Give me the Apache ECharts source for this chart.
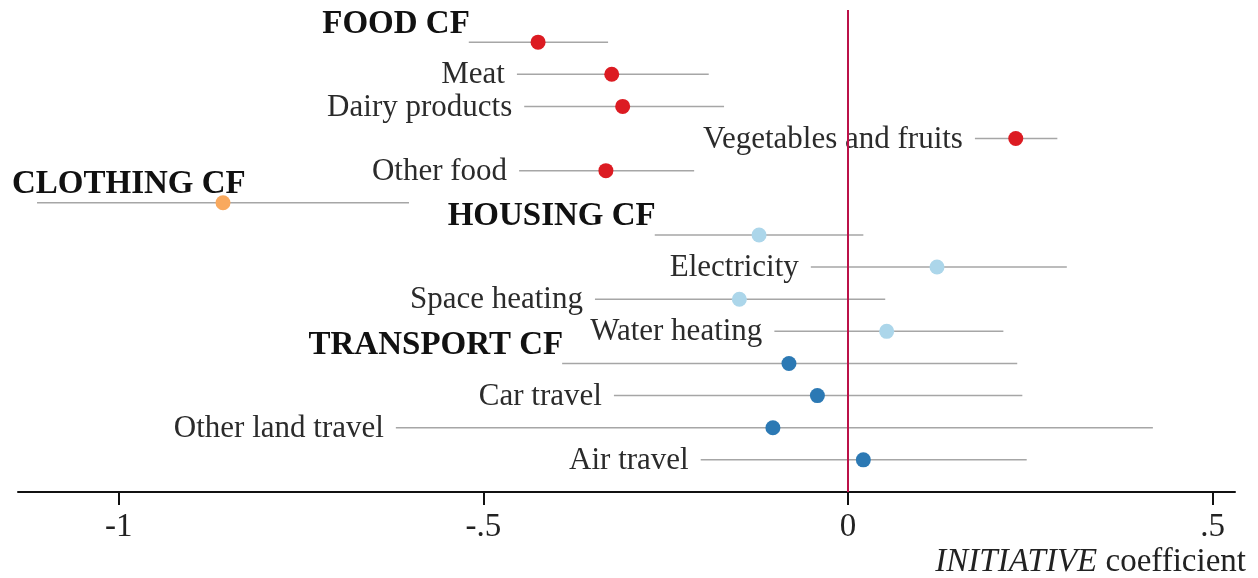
<!DOCTYPE html>
<html>
<head>
<meta charset="utf-8">
<script src="https://cdn.jsdelivr.net/npm/echarts@6/dist/echarts.min.js"></script>
<style>
  html, body { margin: 0; padding: 0; background: #fff; }
  #chart { width: 1258px; height: 578px; }
</style>
</head>
<body>
<div id="chart"></div>
<script>
// Coefficient estimates with confidence intervals, one row per footprint component
const rowLabels = ['FOOD CF', 'Meat', 'Dairy products', 'Vegetables and fruits', 'Other food',
  'CLOTHING CF', 'HOUSING CF', 'Electricity', 'Space heating', 'Water heating',
  'TRANSPORT CF', 'Car travel', 'Other land travel', 'Air travel'];
const isHeader = [true, false, false, false, false, true, true, false, false, false, true, false, false, false];
const groups = ['food', 'food', 'food', 'food', 'food', 'clothing', 'housing', 'housing', 'housing', 'housing',
  'transport', 'transport', 'transport', 'transport'];
const coef = [-0.425, -0.324, -0.309, 0.230, -0.332, -0.857, -0.122, 0.122, -0.149, 0.053, -0.081, -0.042, -0.103, 0.021];
const ciLow = [-0.520, -0.454, -0.444, 0.174, -0.451, -1.112, -0.265, -0.051, -0.347, -0.101, -0.392, -0.321, -0.620, -0.202];
const ciHigh = [-0.329, -0.191, -0.170, 0.287, -0.211, -0.602, 0.021, 0.300, 0.051, 0.213, 0.232, 0.239, 0.418, 0.245];
const xTicks = [-1, -0.5, 0, 0.5];

const groupColors = { food: '#dc1b22', clothing: '#f9a95e', housing: '#acd6ea', transport: '#2c79b4' };

const serif = '"Liberation Serif", "Times New Roman", serif';
const labelFont = '31px ' + serif;
const headerFont = 'bold 33px ' + serif;

const measureCtx = document.createElement('canvas').getContext('2d');
function textWidth(text, font) { measureCtx.font = font; return measureCtx.measureText(text).width; }

const chart = echarts.init(document.getElementById('chart'), null, { renderer: 'canvas' });

const ciData = rowLabels.map((name, i) => [ciLow[i], ciHigh[i], i]);
const pointData = rowLabels.map((name, i) => ({
  value: [coef[i], i],
  itemStyle: { color: groupColors[groups[i]], opacity: 1 }
}));

// Interval line plus the row label to the left of it; group headers sit raised above their line
function renderInterval(params, api) {
  const i = params.dataIndex;
  const start = api.coord([api.value(0), api.value(2)]);
  const end = api.coord([api.value(1), api.value(2)]);
  const children = [{
    type: 'line',
    shape: { x1: start[0], y1: start[1], x2: end[0], y2: end[1] },
    style: { stroke: '#a6a6a6', lineWidth: 1.5 }
  }];
  const name = rowLabels[i];
  if (isHeader[i]) {
    const w = textWidth(name, headerFont);
    const right = Math.max(start[0] + 1, 12 + w);
    children.push({
      type: 'text',
      style: { text: name, x: right, y: start[1] - 18, align: 'right', verticalAlign: 'middle',
        font: headerFont, fill: '#111' }
    });
  } else {
    children.push({
      type: 'text',
      style: { text: name, x: start[0] - 12, y: start[1] + 1, align: 'right', verticalAlign: 'middle',
        font: labelFont, fill: '#2b2b2b' }
    });
  }
  return { type: 'group', children };
}

chart.setOption({
  animation: false,
  backgroundColor: '#ffffff',
  grid: { left: 18, right: 23, top: 10, bottom: 86, containLabel: false },
  xAxis: {
    type: 'value',
    min: -1.1381,
    max: 0.5306,
    splitLine: { show: false },
    axisLine: { show: true, onZero: false, lineStyle: { color: '#111', width: 2 } },
    axisTick: { show: true, customValues: xTicks, length: 13, lineStyle: { color: '#111', width: 2 } },
    axisLabel: {
      customValues: xTicks,
      margin: 19,
      color: '#222',
      fontFamily: serif,
      fontSize: 33,
      formatter: v => (v === 0 ? '0' : String(v).replace('0.', '.'))
    }
  },
  yAxis: {
    type: 'value',
    inverse: true,
    min: -1,
    max: 14,
    show: false
  },
  graphic: [{
    type: 'text',
    z: 10,
    style: {
      x: 1246, y: 562, align: 'right', verticalAlign: 'middle',
      text: '{i|INITIATIVE} coefficient',
      font: '33px ' + serif,
      fill: '#222',
      rich: { i: { fontStyle: 'italic', fontFamily: serif, fontSize: 33, fill: '#222' } }
    }
  }],
  series: [
    {
      type: 'custom',
      renderItem: renderInterval,
      data: ciData,
      encode: { x: [0, 1], y: 2 },
      z: 2,
      silent: true
    },
    {
      type: 'scatter',
      data: pointData,
      symbol: 'circle',
      symbolSize: 15,
      z: 5,
      markLine: {
        silent: true,
        symbol: 'none',
        label: { show: false },
        lineStyle: { color: '#bb1148', width: 2, type: 'solid' },
        data: [{ xAxis: 0 }],
        z: 3
      }
    }
  ]
});
</script>
</body>
</html>
